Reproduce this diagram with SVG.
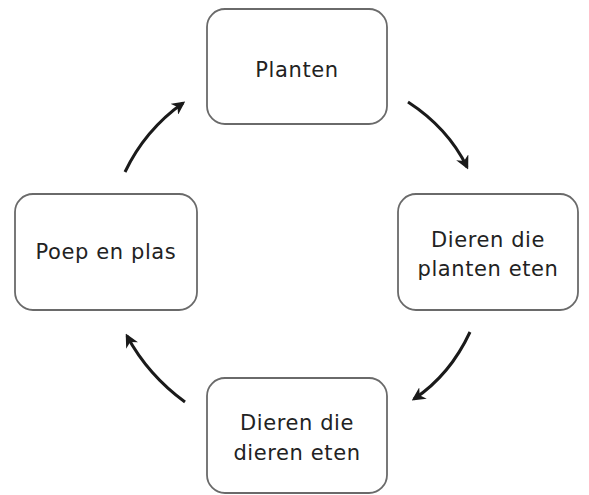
<svg xmlns="http://www.w3.org/2000/svg" width="589" height="495" viewBox="0 0 589 495">
<defs>
<style>
.box{fill:#fff;stroke:#6a6a6a;stroke-width:1.8}
.lbl{font-family:"Comic Sans MS","DejaVu Sans","Liberation Sans",sans-serif;font-size:21px;letter-spacing:0.6px;fill:#222;text-anchor:middle}
.arr{fill:none;stroke:#1a1a1a;stroke-width:3;marker-end:url(#ah)}
</style>
<marker id="ah" viewBox="0 0 10 10" refX="8" refY="5" markerWidth="4.5" markerHeight="4.5" orient="auto" markerUnits="strokeWidth">
<path d="M0,0 L10,5 L0,10 L3,5 Z" fill="#1a1a1a"/>
</marker>
</defs>
<rect width="589" height="495" fill="#fff"/>
<g id="planten">
<rect class="box" x="207" y="9" width="180" height="115" rx="18"/>
<text class="lbl" x="297" y="77">Planten</text>
</g>
<g id="dieren-planten">
<rect class="box" x="398" y="194" width="180" height="116" rx="18"/>
<text class="lbl" x="488" y="247">Dieren die</text>
<text class="lbl" x="488" y="276">planten eten</text>
</g>
<g id="dieren-dieren">
<rect class="box" x="207" y="378" width="180" height="115" rx="18"/>
<text class="lbl" x="297" y="430">Dieren die</text>
<text class="lbl" x="297" y="460">dieren eten</text>
</g>
<g id="poep">
<rect class="box" x="15" y="194" width="182" height="116" rx="18"/>
<text class="lbl" x="106" y="259">Poep en plas</text>
</g>
<g id="connectors">
<path class="arr" d="M408,102 Q448,128 467,167"/>
<path class="arr" d="M470,332 Q450,375 414,399"/>
<path class="arr" d="M185,402 Q148,375 127,336"/>
<path class="arr" d="M125,172 Q145,130 183,103"/>
</g>
</svg>
